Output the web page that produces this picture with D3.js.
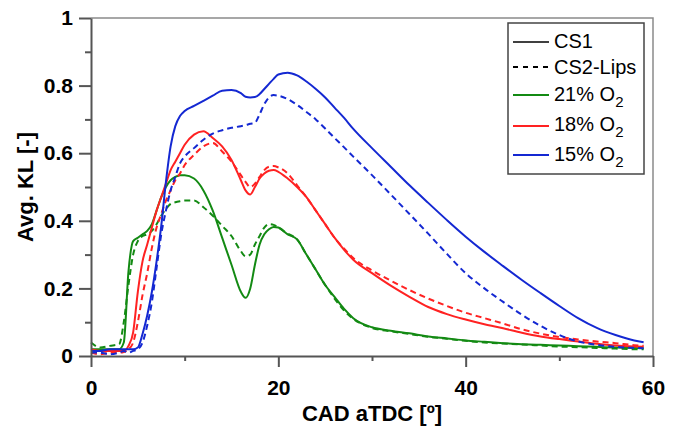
<!DOCTYPE html>
<html>
<head>
<meta charset="utf-8">
<script src="https://cdn.jsdelivr.net/npm/d3@7"></script>
<style>
  body { margin: 0; background: #fff; }
  svg { display: block; font-family: "Liberation Sans", Arial, sans-serif; }
</style>
</head>
<body>
<div id="chart"></div>
<script>
// crank angle grid shared by every curve
const cad = [0, 1, 2, 3, 3.5, 4, 4.5, 5, 5.5, 6, 6.5, 7, 7.5, 8, 8.5, 9, 9.5, 10,
  11, 12, 13, 14, 15, 16, 16.5, 17, 17.5, 18, 18.5, 19, 19.5, 20, 21, 22, 23, 24,
  25, 26, 27, 28, 30, 32, 34, 36, 38, 40, 42, 44, 46, 48, 50, 52, 54, 56, 58, 59];

const o21_cs1 = [0.02, 0.02, 0.02, 0.02, 0.04, 0.25, 0.34, 0.35, 0.36, 0.37, 0.39, 0.43, 0.47, 0.5, 0.52, 0.53, 0.535, 0.535,
  0.525, 0.49, 0.43, 0.35, 0.27, 0.19, 0.172, 0.2, 0.27, 0.33, 0.36, 0.375, 0.382, 0.38, 0.36, 0.345, 0.3, 0.255,
  0.21, 0.175, 0.14, 0.112, 0.085, 0.075, 0.067, 0.058, 0.052, 0.046, 0.042, 0.038, 0.035, 0.033, 0.031, 0.029, 0.027, 0.025, 0.024, 0.023];
const o21_cs2 = [0.04, 0.025, 0.03, 0.035, 0.1, 0.21, 0.3, 0.34, 0.355, 0.36, 0.37, 0.39, 0.415, 0.435, 0.45, 0.455, 0.458, 0.46,
  0.46, 0.44, 0.415, 0.385, 0.355, 0.31, 0.295, 0.3, 0.33, 0.355, 0.38, 0.39, 0.388, 0.38, 0.362, 0.345, 0.3, 0.255,
  0.21, 0.17, 0.135, 0.11, 0.083, 0.073, 0.065, 0.057, 0.051, 0.045, 0.04, 0.037, 0.034, 0.031, 0.028, 0.026, 0.024, 0.022, 0.02, 0.02];
const o18_cs1 = [0.02, 0.015, 0.015, 0.015, 0.015, 0.03, 0.07, 0.19, 0.28, 0.33, 0.38, 0.43, 0.47, 0.51, 0.55, 0.575, 0.6, 0.625,
  0.655, 0.665, 0.645, 0.62, 0.58, 0.52, 0.49, 0.478, 0.5, 0.525, 0.54, 0.548, 0.55, 0.545, 0.525, 0.5, 0.47, 0.43,
  0.39, 0.35, 0.315, 0.285, 0.245, 0.208, 0.175, 0.145, 0.124, 0.108, 0.094, 0.082, 0.069, 0.058, 0.05, 0.043, 0.036, 0.031, 0.028, 0.027];
const o18_cs2 = [0.01, 0.005, 0.01, 0.01, 0.012, 0.02, 0.04, 0.1, 0.18, 0.245, 0.32, 0.38, 0.42, 0.46, 0.49, 0.52, 0.54, 0.565,
  0.595, 0.62, 0.63, 0.605, 0.575, 0.535, 0.515, 0.5, 0.51, 0.53, 0.55, 0.56, 0.562, 0.558, 0.54, 0.505, 0.47, 0.43,
  0.39, 0.35, 0.318, 0.29, 0.253, 0.223, 0.195, 0.17, 0.148, 0.128, 0.112, 0.096, 0.079, 0.066, 0.056, 0.049, 0.043, 0.038, 0.032, 0.03];
const o15_cs1 = [0.015, 0.015, 0.02, 0.02, 0.02, 0.02, 0.02, 0.025, 0.065, 0.12, 0.19, 0.28, 0.385, 0.515, 0.62, 0.68, 0.71, 0.725,
  0.74, 0.755, 0.77, 0.785, 0.787, 0.778, 0.767, 0.765, 0.766, 0.775, 0.79, 0.805, 0.82, 0.833, 0.838, 0.83, 0.812, 0.79,
  0.765, 0.735, 0.705, 0.672, 0.615, 0.56, 0.505, 0.453, 0.402, 0.353, 0.308, 0.266, 0.225, 0.186, 0.148, 0.112, 0.083, 0.062, 0.046, 0.041];
const o15_cs2 = [0.01, 0.01, 0.005, 0.01, 0.015, 0.01, 0.015, 0.02, 0.04, 0.09, 0.16, 0.26, 0.36, 0.43, 0.49, 0.53, 0.57, 0.59,
  0.615, 0.64, 0.658, 0.668, 0.675, 0.68, 0.683, 0.687, 0.69, 0.715, 0.745, 0.765, 0.772, 0.77, 0.76, 0.743, 0.722, 0.7,
  0.673, 0.645, 0.618, 0.59, 0.535, 0.478, 0.42, 0.362, 0.302, 0.245, 0.2, 0.16, 0.122, 0.089, 0.062, 0.043, 0.033, 0.027, 0.024, 0.023];

const xTicks = [0, 20, 40, 60];
const xMinor = [10, 30, 50];
const yTicks = [0, 0.2, 0.4, 0.6, 0.8, 1];
const yMinor = [0.1, 0.3, 0.5, 0.7, 0.9];

const green = "#138a13", red = "#ff2222", blue = "#1428d2";

const series = [
  { vals: o21_cs1, color: green, dashed: false },
  { vals: o21_cs2, color: green, dashed: true },
  { vals: o18_cs1, color: red, dashed: false },
  { vals: o18_cs2, color: red, dashed: true },
  { vals: o15_cs1, color: blue, dashed: false },
  { vals: o15_cs2, color: blue, dashed: true }
];

const W = 681, H = 426;
const margin = { top: 18, right: 28, bottom: 70, left: 91 };

const svg = d3.select("#chart").append("svg")
    .attr("width", W)
    .attr("height", H);

const x = d3.scaleLinear().domain([0, 60]).range([margin.left, W - margin.right]);
const y = d3.scaleLinear().domain([0, 1]).range([H - margin.bottom, margin.top]);

// frame top/right
svg.append("path")
    .attr("d", `M${x(0)},${y(1)}H${x(60)}V${y(0)}`)
    .attr("fill", "none")
    .attr("stroke", "#8a8a8a")
    .attr("stroke-width", 1.5);

const line = d3.line()
    .x((d, i) => x(cad[i]))
    .y(d => y(d))
    .curve(d3.curveMonotoneX);

svg.append("g")
    .selectAll("path")
    .data(series)
    .enter()
    .append("path")
    .attr("d", d => line(d.vals))
    .attr("fill", "none")
    .attr("stroke", d => d.color)
    .attr("stroke-width", 2)
    .attr("stroke-dasharray", d => d.dashed ? "6,4" : null);

const axisColor = "#555";
const fmt = d => (d === 0 || d === 1) ? String(d) : d.toFixed(1);

// x axis
svg.append("g")
    .attr("transform", `translate(0,${y(0)})`)
    .call(d3.axisBottom(x).tickValues(xTicks).tickSize(11).tickPadding(13).tickSizeOuter(0));
svg.append("g")
    .attr("transform", `translate(0,${y(0)})`)
    .call(d3.axisBottom(x).tickValues(xMinor).tickSize(5).tickFormat("").tickSizeOuter(0))
    .select(".domain").remove();

// y axis
svg.append("g")
    .attr("transform", `translate(${x(0)},0)`)
    .call(d3.axisLeft(y).tickValues(yTicks).tickSize(12).tickPadding(6).tickFormat(fmt).tickSizeOuter(0));
svg.append("g")
    .attr("transform", `translate(${x(0)},0)`)
    .call(d3.axisLeft(y).tickValues(yMinor).tickSize(6).tickFormat("").tickSizeOuter(0))
    .select(".domain").remove();

svg.selectAll(".domain, .tick line")
    .attr("stroke", axisColor)
    .attr("stroke-width", 2);
svg.selectAll(".tick text")
    .attr("fill", "#000")
    .style("font-size", "21px")
    .style("font-weight", "bold")
    .style("font-family", "'Liberation Sans', Arial, sans-serif");

// axis titles
svg.append("text")
    .attr("x", (x(0) + x(60)) / 2)
    .attr("y", 421)
    .attr("text-anchor", "middle")
    .style("font-size", "22px")
    .style("font-weight", "bold")
    .text("CAD aTDC [º]");

svg.append("text")
    .attr("transform", `translate(33,${(y(0) + y(1)) / 2}) rotate(-90)`)
    .attr("text-anchor", "middle")
    .style("font-size", "22px")
    .style("font-weight", "bold")
    .text("Avg. KL [-]");

// legend
const legend = svg.append("g");
legend.append("rect")
    .attr("x", 508).attr("y", 23)
    .attr("width", 136).attr("height", 151)
    .attr("fill", "#fff")
    .attr("stroke", "#444")
    .attr("stroke-width", 1.5);

const legendItems = [
  { label: "CS1", color: "#000", dashed: false, sub: false, ly: 42, ty: 48, w: 1.5 },
  { label: "CS2-Lips", color: "#000", dashed: true, sub: false, ly: 67, ty: 74, w: 2 },
  { label: "21% O", color: green, dashed: false, sub: true, ly: 95, ty: 101, w: 2 },
  { label: "18% O", color: red, dashed: false, sub: true, ly: 126, ty: 131, w: 2 },
  { label: "15% O", color: blue, dashed: false, sub: true, ly: 155, ty: 161, w: 2 }
];

legendItems.forEach(d => {
  legend.append("line")
      .attr("x1", 513).attr("x2", 549)
      .attr("y1", d.ly).attr("y2", d.ly)
      .attr("stroke", d.color)
      .attr("stroke-width", d.w)
      .attr("stroke-dasharray", d.dashed ? "5,5" : null);
  const t = legend.append("text")
      .attr("x", 554)
      .attr("y", d.ty)
      .style("font-size", "20px")
      .text(d.label);
  if (d.sub) {
    t.append("tspan")
        .attr("dy", 6)
        .style("font-size", "15px")
        .text("2");
  }
});
</script>
</body>
</html>
